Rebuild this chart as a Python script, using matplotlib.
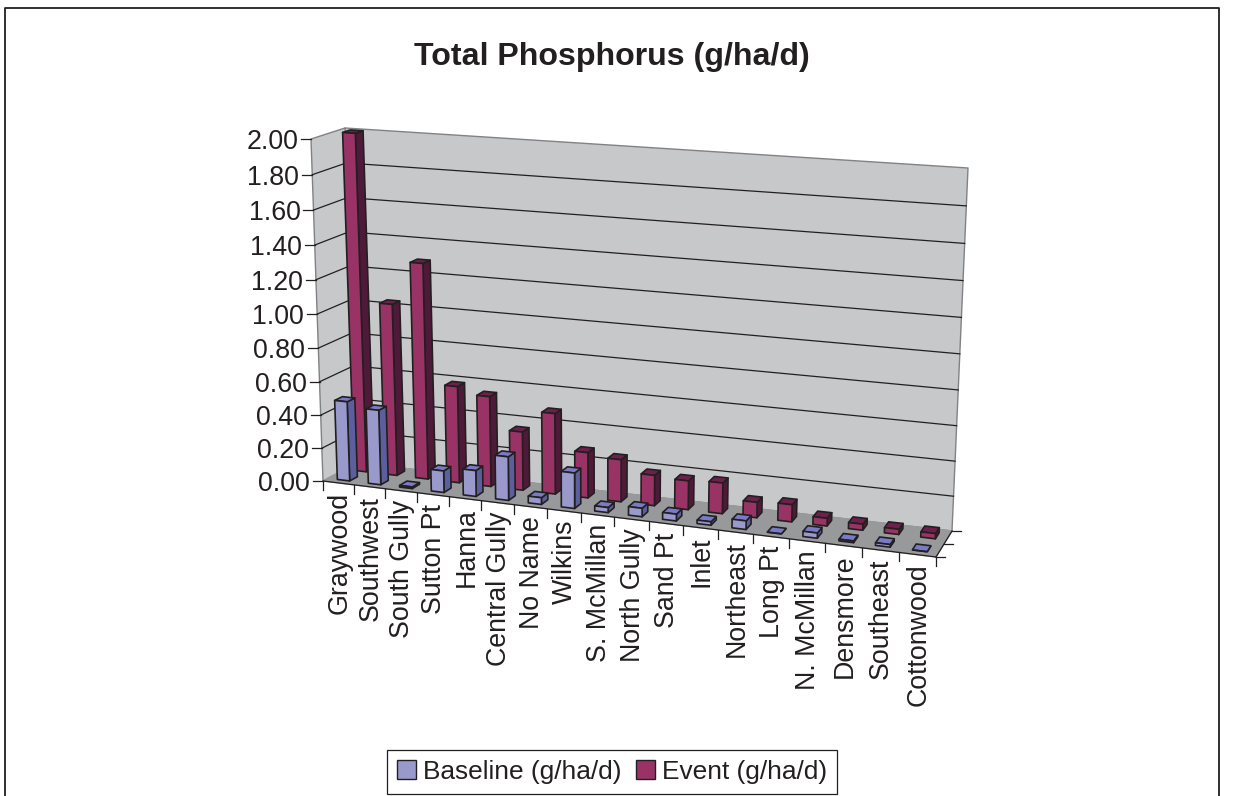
import matplotlib
matplotlib.use("Agg")
import matplotlib.pyplot as plt
from matplotlib.patches import Polygon, Patch

plt.rcParams['font.family'] = ['Liberation Sans', 'DejaVu Sans']

categories = ["Graywood", "Southwest", "South Gully", "Sutton Pt", "Hanna", "Central Gully",
              "No Name", "Wilkins", "S. McMillan", "North Gully", "Sand Pt", "Inlet",
              "Northeast", "Long Pt", "N. McMillan", "Densmore", "Southeast", "Cottonwood"]
baseline = [0.48, 0.45, 0.01, 0.13, 0.155, 0.26, 0.04, 0.21, 0.03, 0.05,
            0.04, 0.02, 0.05, 0.00, 0.03, 0.01, 0.015, 0.00]
event = [2.00, 1.03, 1.285, 0.58, 0.54, 0.35, 0.48, 0.27, 0.25, 0.18,
         0.17, 0.18, 0.09, 0.10, 0.045, 0.035, 0.03, 0.03]
y_ticks = [0.0, 0.2, 0.4, 0.6, 0.8, 1.0, 1.2, 1.4, 1.6, 1.8, 2.0]
title = "Total Phosphorus (g/ha/d)"
legend_labels = ["Baseline (g/ha/d)", "Event (g/ha/d)"]

Y_MAX = 2.0
N = len(categories)

# Box corners of the 3D axes on the page, (x, y) in pixels: [category side][depth][height]
BOX = {(0, 0, 0): (323, 481), (0, 0, 1): (311, 139),
       (0, 1, 0): (357, 463), (0, 1, 1): (345, 128),
       (1, 0, 0): (936, 557), (1, 0, 1): (953, 186),
       (1, 1, 0): (952, 531), (1, 1, 1): (968, 168)}
K_X, K_V = 1.103, 1.049


def project(cat, depth, value):
    """Category position, depth 0-1 and data value to page position."""
    u = cat / N
    t = u / (u + K_X * (1 - u))
    w = value / Y_MAX
    v = w / (w + K_V * (1 - w))
    px = py = 0.0
    for a, fa in ((0, 1 - t), (1, t)):
        for b, fb in ((0, 1 - depth), (1, depth)):
            for c, fc in ((0, 1 - v), (1, v)):
                x, y = BOX[(a, b, c)]
                px += fa * fb * fc * x
                py += fa * fb * fc * y
    return px, py


fig = plt.figure(figsize=(12.37, 7.96), dpi=100, facecolor='white')
ax = fig.add_axes([0, 0, 1, 1])
ax.set_xlim(0, 1237)
ax.set_ylim(796, 0)
ax.axis('off')

# chart frame (bottom edge lies below the page)
ax.plot([5, 5, 1219, 1219], [796, 8, 8, 796], color='#231f20', lw=1.3, zorder=1)

ax.text(612, 57, title, ha='center', va='center', fontsize=23.1, fontweight='bold', color='#231f20')

WALL = '#c6c8ca'
FLOOR = '#97999b'
EDGE = '#808285'
GRID = '#231f20'


def quad(points, face, edge=EDGE, lw=1.0, z=2):
    ax.add_patch(Polygon(points, closed=True, facecolor=face, edgecolor=edge, lw=lw,
                         joinstyle='round', zorder=z))


quad([project(0, 1, 0), project(0, 1, Y_MAX), project(N, 1, Y_MAX), project(N, 1, 0)], WALL)
quad([project(0, 0, 0), project(0, 0, Y_MAX), project(0, 1, Y_MAX), project(0, 1, 0)], WALL)
quad([project(0, 0, 0), project(N, 0, 0), project(N, 1, 0), project(0, 1, 0)], FLOOR, edge=FLOOR)

# gridlines on the two walls, value axis ticks and labels
for val in y_ticks:
    if 0 < val < Y_MAX:
        a, b, c = project(0, 0, val), project(0, 1, val), project(N, 1, val)
        ax.plot([a[0], b[0], c[0]], [a[1], b[1], c[1]], color=GRID, lw=0.9, zorder=3)
    a = project(0, 0, val)
    ax.plot([a[0] - 10, a[0]], [a[1], a[1]], color=GRID, lw=0.9, zorder=3)
    ax.text(a[0] - 13, a[1] + 3, f"{val:.2f}", ha='right', va='center', fontsize=19.3, color='#231f20')

# category axis: line, ticks and rotated labels
p0, p1 = project(0, 0, 0), project(N, 0, 0)
ax.plot([p0[0], p1[0]], [p0[1], p1[1]], color=GRID, lw=0.9, zorder=3)
for i in range(N + 1):
    x, y = project(i, 0, 0)
    ax.plot([x, x], [y, y + 9], color=GRID, lw=0.9, zorder=3)
for i, name in enumerate(categories):
    x, y = project(i + 0.5, 0, 0)
    ax.text(x + 1, y + 9, name, rotation=90, rotation_mode='anchor', ha='right', va='center',
            fontsize=19.3, color='#231f20')

# depth axis at the right of the floor
p0, p1 = project(N, 0, 0), project(N, 1, 0)
ax.plot([p0[0], p1[0]], [p0[1], p1[1]], color=GRID, lw=0.9, zorder=3)
for d in (0, 0.5, 1):
    x, y = project(N, d, 0)
    ax.plot([x, x + 9], [y, y], color=GRID, lw=0.9, zorder=3)

BAR_EDGE = '#231f20'
BAR_X = (0.3, 0.7)


def bar(i, d0, d1, value, colors, z):
    front, side, top = colors
    xa, xb = i + BAR_X[0], i + BAR_X[1]
    quad([project(xb, d0, 0), project(xb, d0, value), project(xb, d1, value), project(xb, d1, 0)],
         side, BAR_EDGE, 1.2, z)
    quad([project(xa, d0, value), project(xb, d0, value), project(xb, d1, value), project(xa, d1, value)],
         top, BAR_EDGE, 1.2, z)
    quad([project(xa, d0, 0), project(xb, d0, 0), project(xb, d0, value), project(xa, d0, value)],
         front, BAR_EDGE, 1.2, z)


BASE_COLORS = ('#9999cc', '#5b5f9e', '#7a7bc8')
EVENT_COLORS = ('#993366', '#4f1a3a', '#6e1f4c')
for i, val in enumerate(event):
    bar(i, 0.65, 0.88, val, EVENT_COLORS, 4)
for i, val in enumerate(baseline):
    bar(i, 0.15, 0.38, val, BASE_COLORS, 5)

handles = [Patch(facecolor=BASE_COLORS[0], edgecolor=BAR_EDGE, lw=1.0),
           Patch(facecolor=EVENT_COLORS[0], edgecolor=BAR_EDGE, lw=1.0)]
leg = ax.legend(handles, legend_labels, ncol=2, loc='lower left', bbox_to_anchor=(387, 794),
                bbox_transform=ax.transData, borderaxespad=0, fontsize=18.9, fancybox=False,
                frameon=True, edgecolor='#231f20', framealpha=1, handlelength=0.72, handleheight=0.72,
                handletextpad=0.27, columnspacing=0.55, borderpad=0.38, labelcolor='#231f20')
leg.get_frame().set_linewidth(0.9)

fig.savefig('out.png', dpi=100)
